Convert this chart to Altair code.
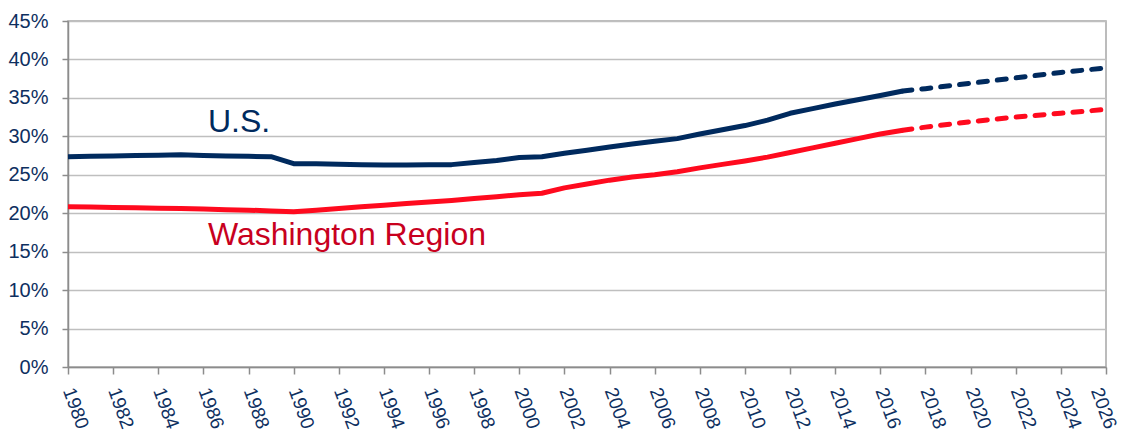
import altair as alt
import pandas as pd

# Actual values (percent), 1980-2017
years_actual = list(range(1980, 2018))
us_actual = [27.35, 27.4, 27.45, 27.5, 27.55, 27.6, 27.5, 27.45, 27.4, 27.35,
             26.45, 26.42, 26.38, 26.32, 26.28, 26.28, 26.3, 26.32, 26.6, 26.85,
             27.25, 27.35, 27.8, 28.2, 28.6, 29.0, 29.35, 29.7, 30.3, 30.85,
             31.4, 32.1, 33.0, 33.6, 34.2, 34.75, 35.3, 35.9]
wr_actual = [20.85, 20.8, 20.75, 20.7, 20.65, 20.6, 20.55, 20.45, 20.4, 20.3,
             20.2, 20.4, 20.6, 20.85, 21.05, 21.25, 21.45, 21.65, 21.9, 22.15,
             22.4, 22.6, 23.3, 23.8, 24.3, 24.7, 25.0, 25.4, 25.9, 26.35,
             26.8, 27.3, 27.9, 28.5, 29.1, 29.7, 30.3, 30.8]

# Projected values (percent)
years_proj = [2017, 2018, 2020, 2022, 2024, 2026]
us_proj = [35.9, 36.2, 36.9, 37.6, 38.3, 38.9]
wr_proj = [30.8, 31.2, 31.9, 32.5, 33.0, 33.5]

series_names = ["U.S.", "Washington Region"]
line_colors = ["#002A5E", "#FF0A1E"]
label_colors = ["#002A5E", "#C8001E"]

# annotation positions in data units
label_years = [1986.2, 1986.2]
label_values = [30.6, 15.9]

x_ticks = list(range(1980, 2027, 2))
y_ticks = list(range(0, 46, 5))

actual = pd.DataFrame({
    "year": years_actual * 2,
    "value": us_actual + wr_actual,
    "series": [series_names[0]] * len(years_actual) + [series_names[1]] * len(years_actual),
})
proj = pd.DataFrame({
    "year": years_proj * 2,
    "value": us_proj + wr_proj,
    "series": [series_names[0]] * len(years_proj) + [series_names[1]] * len(years_proj),
})
labels = pd.DataFrame({
    "year": label_years,
    "value": label_values,
    "series": series_names,
    "color": label_colors,
})

x_axis = alt.Axis(values=x_ticks, format="d", title=None, grid=False,
                  labelAngle=70, labelAlign="left", labelBaseline="middle",
                  labelFontSize=19, labelPadding=14, tickSize=7,
                  labelOffset={"condition": {"test": "datum.value == 2026", "value": -10}, "value": 0},
                  labelOverlap=False, labelFlush=False)
y_axis = alt.Axis(values=y_ticks, labelExpr="datum.value + '%'", title=None,
                  grid=True, labelFontSize=20, labelPadding=14, tickSize=6,
                  labelOverlap=False)
x_enc = alt.X("year:Q", scale=alt.Scale(domain=[1980, 2026], nice=False, zero=False), axis=x_axis)
y_enc = alt.Y("value:Q", scale=alt.Scale(domain=[0, 45], nice=False), axis=y_axis)
color_scale = alt.Scale(domain=series_names, range=line_colors)

solid = alt.Chart(actual).mark_line(strokeWidth=5, strokeJoin="round").encode(
    x=x_enc, y=y_enc,
    color=alt.Color("series:N", scale=color_scale, legend=None),
)
dashed = alt.Chart(proj).mark_line(strokeWidth=5, strokeDash=[9, 10], strokeCap="round").encode(
    x=x_enc, y=y_enc,
    color=alt.Color("series:N", scale=color_scale, legend=None),
)
text = alt.Chart(labels).mark_text(align="left", baseline="alphabetic", fontSize=32,
                                   font="Liberation Sans").encode(
    x=x_enc, y=y_enc,
    text="series:N",
    color=alt.Color("color:N", scale=None),
)

chart = alt.layer(solid, dashed, text).properties(
    width=1038, height=346,
    padding={"left": 60, "top": 13, "right": 17, "bottom": 70},
    autosize=alt.AutoSizeParams(type="none"),
    background="white",
).configure_view(
    stroke="#A6A6A6", strokeWidth=1.5
).configure_axis(
    labelFont="Liberation Sans", labelColor="#0E2F5F",
    tickColor="#8C8C8C", tickWidth=1.5,
    domainColor="#8C8C8C", domainWidth=1.5,
    gridColor="#BFBFBF", gridWidth=1.5,
)

chart.save("out.html", embed_options={"renderer": "svg", "actions": False})
